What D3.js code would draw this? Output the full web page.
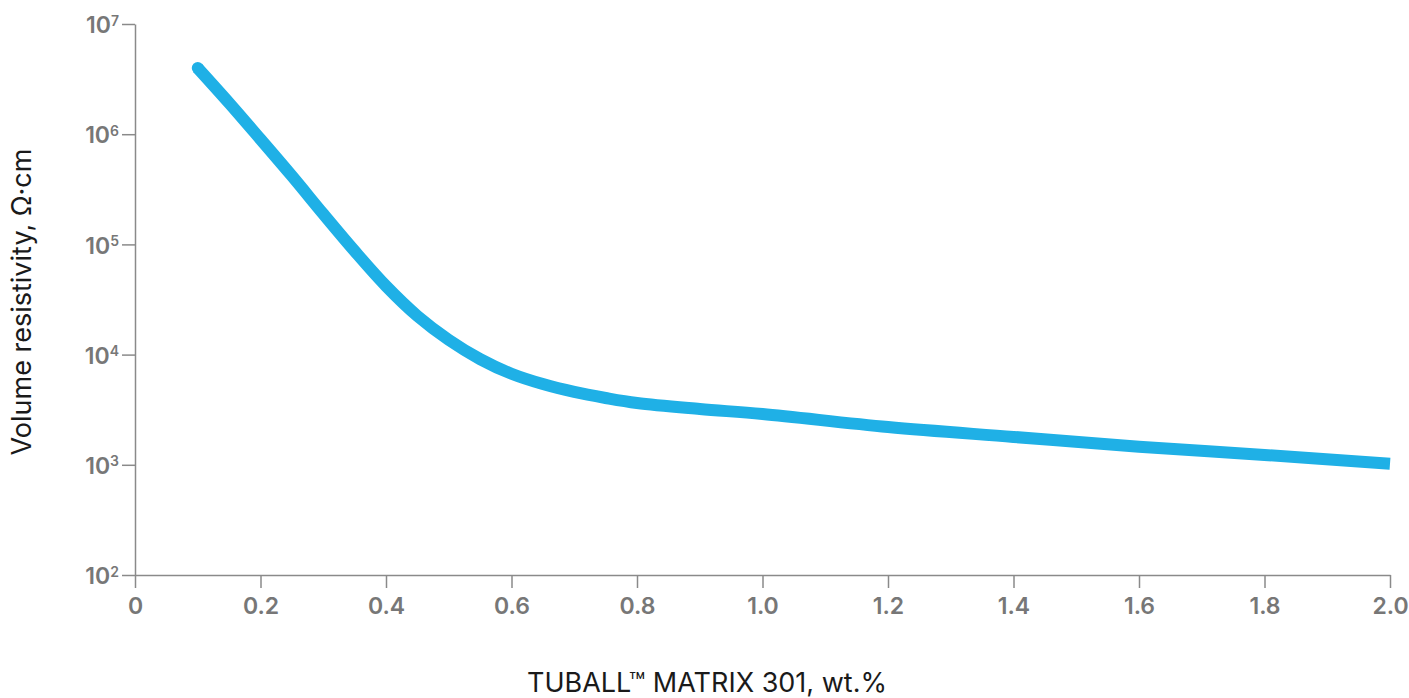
<!DOCTYPE html>
<html>
<head>
<meta charset="utf-8">
<script src="https://cdn.jsdelivr.net/npm/d3@7"></script>
<style>
  body { margin: 0; background: #fff; }
  svg { display: block; }
</style>
</head>
<body>
<svg id="chart"></svg>
<script>
var width = 1409;
var height = 698;
var margin = { top: 24, right: 19, bottom: 123, left: 135 };

// TUBALL MATRIX 301 loading, wt.%
var loading = [0.1, 0.15, 0.2, 0.25, 0.3, 0.35, 0.4, 0.45, 0.5, 0.55, 0.6, 0.65, 0.7, 0.75, 0.8, 0.9, 1.0, 1.2, 1.4, 1.6, 1.8, 2.0];
// volume resistivity, Ohm*cm
var resistivity = [3.98e6, 1.92e6, 9.0e5, 4.18e5, 1.89e5, 8.7e4, 4.19e4, 2.24e4, 1.36e4, 9.1e3, 6.7e3, 5.4e3, 4.58e3, 4.04e3, 3.64e3, 3.21e3, 2.89e3, 2.2e3, 1.79e3, 1.46e3, 1.23e3, 1.02e3];

var xTicks = [0, 0.2, 0.4, 0.6, 0.8, 1.0, 1.2, 1.4, 1.6, 1.8, 2.0];
var yExponents = [2, 3, 4, 5, 6, 7];

var svg = d3.select("#chart").attr("width", width).attr("height", height);

var x = d3.scaleLinear().domain([0, 2]).range([margin.left, width - margin.right]);
var y = d3.scaleLog().domain([1e2, 1e7]).range([height - margin.bottom, margin.top]);

var axisColor = "#8a8a8a";
var tickColor = "#777777";
var fontStack = "Inter, 'Open Sans', sans-serif";

// x axis
var gx = svg.append("g")
    .attr("transform", "translate(0," + (height - margin.bottom) + ")")
    .call(d3.axisBottom(x)
        .tickValues(xTicks)
        .tickSize(13)
        .tickSizeOuter(0)
        .tickPadding(10)
        .tickFormat(function (d) { return d === 0 ? "0" : d3.format(".1f")(d); }));

gx.select(".domain").attr("stroke", axisColor).attr("stroke-width", 1.5);
gx.selectAll(".tick line").attr("stroke", axisColor).attr("stroke-width", 1.5);
gx.selectAll(".tick text")
    .attr("fill", tickColor)
    .style("font-family", fontStack)
    .style("font-weight", 600)
    .style("font-size", "23px");

// y axis
var gy = svg.append("g")
    .attr("transform", "translate(" + margin.left + ",0)")
    .call(d3.axisLeft(y)
        .tickValues(yExponents.map(function (e) { return Math.pow(10, e); }))
        .tickSize(13)
        .tickSizeOuter(0)
        .tickPadding(3)
        .tickFormat(""));

gy.select(".domain").attr("stroke", axisColor).attr("stroke-width", 1.5);
gy.selectAll(".tick line").attr("stroke", axisColor).attr("stroke-width", 1.5);

gy.selectAll(".tick text")
    .attr("fill", tickColor)
    .attr("dy", "0.38em")
    .style("font-family", fontStack)
    .style("font-weight", 600)
    .style("font-size", "23px")
    .each(function (d, i) {
        var t = d3.select(this);
        t.text(null);
        t.append("tspan").text("10");
        t.append("tspan")
            .attr("dy", "-0.55em")
            .style("font-size", "14px")
            .text(yExponents[i]);
    });

// curve
var line = d3.line()
    .x(function (d, i) { return x(loading[i]); })
    .y(function (d) { return y(d); })
    .curve(d3.curveCatmullRom.alpha(0.5));

svg.append("path")
    .datum(resistivity)
    .attr("fill", "none")
    .attr("stroke", "#1fb0e6")
    .attr("stroke-width", 12)
    .attr("stroke-linejoin", "round")
    .attr("d", line);

// rounded start of the curve
svg.append("circle")
    .attr("cx", x(loading[0]))
    .attr("cy", y(resistivity[0]))
    .attr("r", 6)
    .attr("fill", "#1fb0e6");

// axis titles
svg.append("text")
    .attr("x", 707)
    .attr("y", 692)
    .attr("text-anchor", "middle")
    .attr("fill", "#1a1a1a")
    .style("font-family", fontStack)
    .style("font-size", "27px")
    .text("TUBALL\u2122 MATRIX 301, wt.%");

svg.append("text")
    .attr("transform", "translate(31," + 302 + ") rotate(-90)")
    .attr("text-anchor", "middle")
    .attr("fill", "#1a1a1a")
    .style("font-family", fontStack)
    .style("font-size", "27px")
    .text("Volume resistivity, \u03a9\u00b7cm");
</script>
</body>
</html>
